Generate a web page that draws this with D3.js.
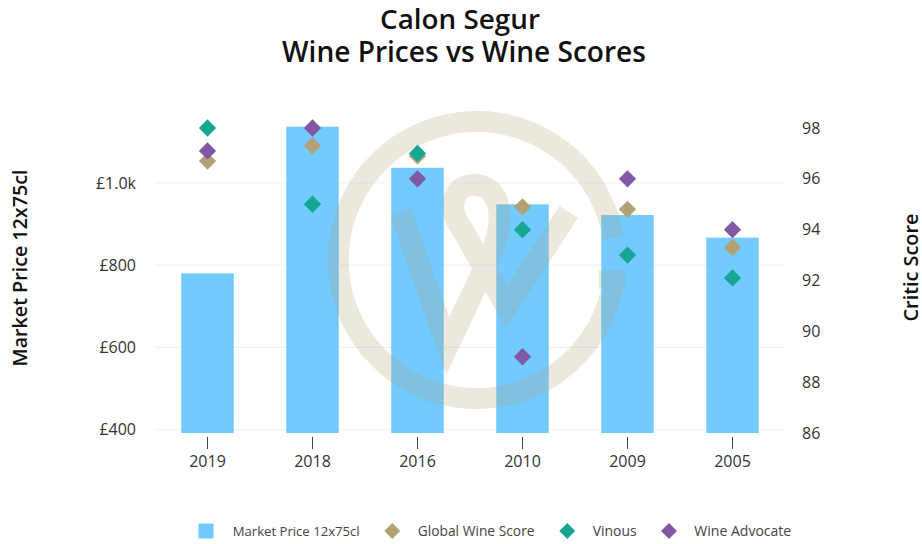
<!DOCTYPE html>
<html><head><meta charset="utf-8">
<script src="https://cdn.jsdelivr.net/npm/d3@7"></script>
<style>body{margin:0;background:#fff;} svg{display:block;font-family:'Open Sans',sans-serif;}</style>
</head><body><svg id="c" width="922" height="544"></svg>
<script>
// ---- data ----
const vintages = ["2019", "2018", "2016", "2010", "2009", "2005"];
const marketPrice = [780, 1137, 1037, 948, 922, 867];
const globalWineScore = [96.7, 97.3, 96.9, 94.9, 94.8, 93.3];
const vinous = [98, 95, 97, 94, 93, 92.1];
const wineAdvocate = [97.1, 98, 96, 89, 96, 94];
const priceTicks = [400, 600, 800, 1000];
const priceTickLabels = ["£400", "£600", "£800", "£1.0k"];
const scoreTicks = [86, 88, 90, 92, 94, 96, 98];
const seriesNames = ["Market Price 12x75cl", "Global Wine Score", "Vinous", "Wine Advocate"];

// ---- layout ----
const W = 922, H = 544;
const plot = {left: 155, right: 785, top: 110, bottom: 433};
const colors = {bar: "#72cafe", gws: "#b3a074", vinous: "#17a594", wa: "#8058a3"};

const svg = d3.select("#c");

const x = d3.scaleBand().domain(vintages).range([plot.left, plot.right]).paddingInner(0.5).paddingOuter(0.25);
const yL = d3.scaleLinear().domain([400, 1000]).range([429.5, 183]);
const yR = d3.scaleLinear().domain([86, 98]).range([plot.bottom, 128]);

function fit(sel, target) {
  const fs = parseFloat(sel.attr("font-size"));
  const w = sel.node().getComputedTextLength();
  sel.attr("font-size", fs * target / w);
}

// gridlines
svg.append("g").selectAll("line").data(priceTicks).join("line")
  .attr("x1", plot.left).attr("x2", plot.right)
  .attr("y1", d => yL(d)).attr("y2", d => yL(d))
  .attr("stroke", "#edf1f8").attr("stroke-width", 1.2);

// bars
svg.append("g").selectAll("rect").data(vintages).join("rect")
  .attr("x", d => x(d)).attr("width", x.bandwidth())
  .attr("y", (d, i) => yL(marketPrice[i]))
  .attr("height", (d, i) => plot.bottom - yL(marketPrice[i]))
  .attr("fill", colors.bar);

// watermark
const wm = svg.append("g").attr("opacity", 0.24).attr("transform", "translate(476.7,260)");
wm.append("path").attr("fill", "#b3a47a")
  .attr("d", d3.arc().innerRadius(128).outerRadius(149).startAngle(Math.PI / 2 + 0.09).endAngle(Math.PI / 2 - 0.16 + 2 * Math.PI)());
wm.append("rect").attr("x", 122).attr("y", 10).attr("width", 26).attr("height", 19).attr("fill", "#b3a47a");
const wmStroke = {fill: "none", stroke: "#b3a47a", "stroke-width": 22, "stroke-linejoin": "miter", "stroke-linecap": "butt"};
function wmPath(d) {
  const p = wm.append("path").attr("d", d);
  Object.entries(wmStroke).forEach(([k, v]) => p.attr(k, v));
  return p;
}
wmPath("M-76,-48 L-29,86 L13,-3");
wmPath("M13,-3 C30,-40 25,-75 -3,-75 C-25,-75 -30,-50 -14,-30 L30,47 L92,-48");

// markers
const diamond = d3.symbol().type(d3.symbolDiamond2).size(190);
const scoreSeries = [
  {vals: globalWineScore, color: colors.gws},
  {vals: vinous, color: colors.vinous},
  {vals: wineAdvocate, color: colors.wa}
];
scoreSeries.forEach(s => {
  svg.append("g").selectAll("path").data(vintages).join("path")
    .attr("d", diamond)
    .attr("transform", (d, i) => `translate(${x(d) + x.bandwidth() / 2},${yR(s.vals[i])})`)
    .attr("fill", s.color);
});

// x axis
const xg = svg.append("g").attr("transform", `translate(0,437)`)
  .call(d3.axisBottom(x).tickSize(12).tickPadding(7));
xg.select(".domain").remove();
xg.selectAll("line").attr("stroke", "#444");
xg.selectAll("text").attr("font-size", 16).attr("fill", "#333").attr("font-family", "'Open Sans',sans-serif");

// left axis
const lg = svg.append("g").attr("transform", `translate(${plot.left},0)`)
  .call(d3.axisLeft(yL).tickValues(priceTicks).tickFormat((d, i) => priceTickLabels[i]).tickSize(0).tickPadding(19));
lg.select(".domain").remove();
lg.selectAll("text").attr("font-size", 16).attr("fill", "#333").attr("font-family", "'Open Sans',sans-serif");

// right axis
const rg = svg.append("g").attr("transform", `translate(${plot.right},0)`)
  .call(d3.axisRight(yR).tickValues(scoreTicks).tickSize(0).tickPadding(17));
rg.select(".domain").remove();
rg.selectAll("text").attr("font-size", 16).attr("fill", "#333").attr("font-family", "'Open Sans',sans-serif");

// titles
const t1 = svg.append("text").attr("x", 460).attr("y", 28.5).attr("text-anchor", "middle")
  .attr("font-size", 24).attr("font-weight", 600).attr("fill", "#111").text("Calon Segur");
fit(t1, 160);
const t2 = svg.append("text").attr("x", 464).attr("y", 62).attr("text-anchor", "middle")
  .attr("font-size", 24).attr("font-weight", 600).attr("fill", "#111").text("Wine Prices vs Wine Scores");
fit(t2, 364);

// axis titles
const at1 = svg.append("text").attr("transform", "translate(27,268) rotate(-90)").attr("text-anchor", "middle")
  .attr("font-size", 18).attr("font-weight", 600).attr("fill", "#111").text("Market Price 12x75cl");
fit(at1, 197);
const at2 = svg.append("text").attr("transform", "translate(918,267.5) rotate(-90)").attr("text-anchor", "middle")
  .attr("font-size", 18).attr("font-weight", 600).attr("fill", "#111").text("Critic Score");
fit(at2, 108);

// legend
const legY = 531;
const legItems = [
  {name: seriesNames[0], type: "square", color: colors.bar, mx: 206, tx: 232.7, tw: 127},
  {name: seriesNames[1], type: "diamond", color: colors.gws, mx: 392.3, tx: 417.7, tw: 117},
  {name: seriesNames[2], type: "diamond", color: colors.vinous, mx: 567.3, tx: 592.7, tw: 44},
  {name: seriesNames[3], type: "diamond", color: colors.wa, mx: 669, tx: 694.3, tw: 97}
];
const leg = svg.append("g");
legItems.forEach(it => {
  if (it.type === "square") {
    leg.append("rect").attr("x", it.mx - 7.5).attr("y", legY - 7.5).attr("width", 15).attr("height", 15).attr("fill", it.color);
  } else {
    leg.append("path").attr("d", d3.symbol().type(d3.symbolDiamond2).size(162)())
      .attr("transform", `translate(${it.mx},${legY})`).attr("fill", it.color);
  }
  const t = leg.append("text").attr("x", it.tx).attr("y", legY + 5).attr("font-size", 14)
    .attr("fill", "#444").text(it.name);
  fit(t, it.tw);
});
</script>
</body></html>
